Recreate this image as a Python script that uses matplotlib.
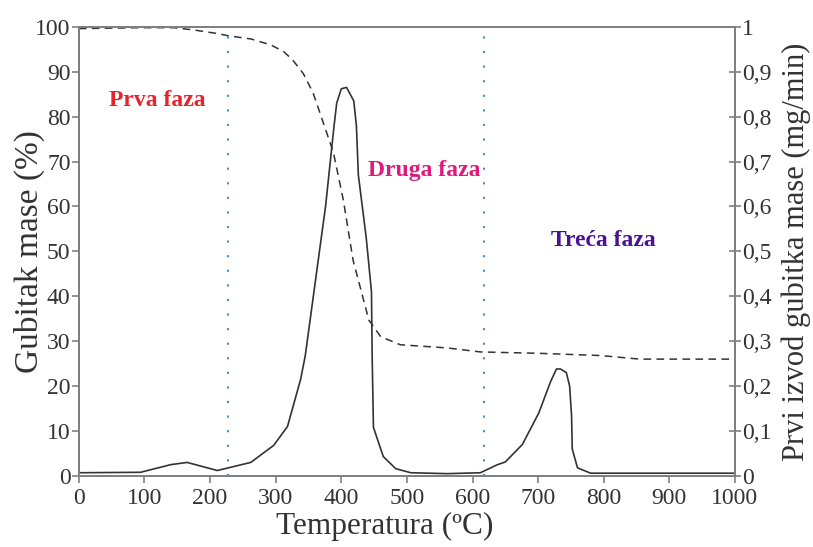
import numpy as np
import matplotlib.pyplot as plt

plt.rcParams['font.family'] = ['Liberation Serif', 'DejaVu Serif']

# gubitak mase (%) - isprekidana linija
t_mass = [0, 93, 145, 175, 211, 228, 262, 292, 312, 326, 342, 357, 388, 403, 418,
          442, 460, 490, 561, 612, 700, 795, 855, 1000]
mass = [99.6, 99.8, 99.8, 99.3, 98.5, 98.0, 97.3, 96.0, 94.5, 92.6, 89.6, 85.3, 72.0,
        61.5, 48.0, 34.7, 31.0, 29.2, 28.5, 27.6, 27.3, 26.8, 26.0, 26.0]

# prvi izvod gubitka mase (mg/min) - puna linija
t_dtg = [0, 94, 140, 165, 211, 262, 297, 318, 338, 345, 376, 389, 393, 400, 408, 419,
         423, 426, 432, 438, 446, 447, 449, 464, 483, 506, 562, 612, 638, 650, 676,
         701, 719, 728, 734, 743, 748, 751, 752, 760, 780, 1000]
dtg = [0.007, 0.008, 0.025, 0.030, 0.012, 0.030, 0.068, 0.11, 0.215, 0.267, 0.60,
       0.78, 0.83, 0.862, 0.865, 0.835, 0.78, 0.67, 0.60, 0.53, 0.41, 0.27, 0.108,
       0.043, 0.016, 0.007, 0.005, 0.007, 0.025, 0.031, 0.07, 0.14, 0.21, 0.238, 0.238,
       0.23, 0.20, 0.133, 0.06, 0.018, 0.006, 0.006]

phase_x = [228, 617]
phase_labels = ['Prva faza', 'Druga faza', 'Treća faza']
phase_pos = [(120, 83.5), (526, 68), (800, 52.5)]
phase_colors = ['#e5252d', '#e0197d', '#4a1190']

fig = plt.figure(figsize=(8.13, 5.47), dpi=100)
ax = fig.add_axes([0.097, 0.130, 0.807, 0.821])
ax2 = ax.twinx()

ax.plot(t_mass, mass, color='#333333', lw=1.1, ls=(0, (5, 3.5)))
ax2.plot(t_dtg, dtg, color='#333333', lw=1.2)

for xv in phase_x:
    ax.axvline(xv, ymax=0.98, color='#3a8fd0', lw=1.5, ls=(0, (1, 6)))

for lab, (px, py), c in zip(phase_labels, phase_pos, phase_colors):
    ax.text(px, py, lab, color=c, fontsize=17, fontweight='bold', ha='center', va='center')

ax.set_xlim(0, 1000)
ax.set_ylim(0, 100)
ax2.set_ylim(0, 1)
ax.set_xticks(np.arange(0, 1001, 100))
ax.set_yticks(np.arange(0, 101, 10))
ax2.set_yticks(np.arange(0, 1.01, 0.1))
ax2.set_yticklabels(['0'] + ['0,%d' % i for i in range(1, 10)] + ['1'])

for a in (ax, ax2):
    for s in a.spines.values():
        s.set_color('#808080')
        s.set_linewidth(1.4)
ax.tick_params(axis='both', direction='out', length=5, width=1.2, color='#808080',
               labelsize=17, labelcolor='#333333', pad=1)
ax.tick_params(axis='x', pad=4)
ax2.tick_params(axis='y', direction='inout', length=8, width=1.2, color='#808080',
                labelsize=17, labelcolor='#333333', pad=1)

ax.set_xlabel('Temperatura (ºC)', fontsize=22.5, color='#333333')
ax.xaxis.set_label_coords(0.466, -0.08)
ax.set_ylabel('Gubitak mase (%)', fontsize=24, color='#333333')
ax.yaxis.set_label_coords(-0.052, 0.5)
ax2.set_ylabel('Prvi izvod gubitka mase (mg/min)', fontsize=22, color='#333333', labelpad=7)

fig.savefig('out.png', dpi=100)
